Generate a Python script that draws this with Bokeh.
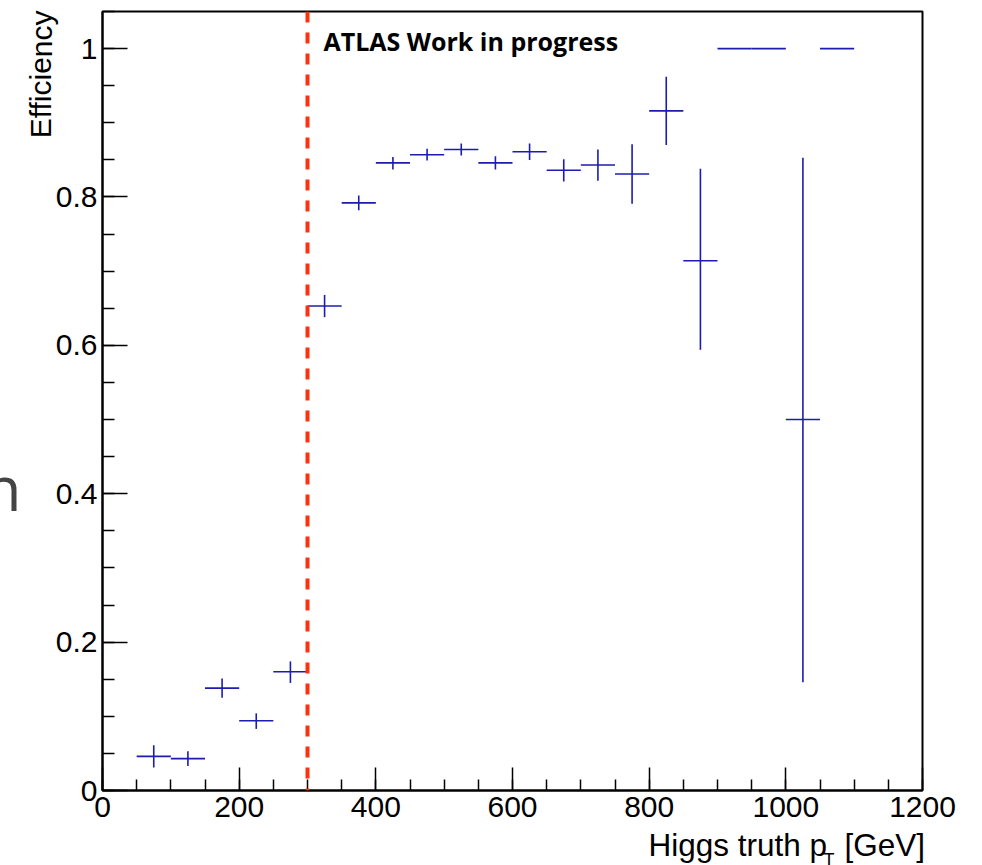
from bokeh.plotting import figure
from bokeh.models import Range1d, FixedTicker, Span, Label, CustomJSTickFormatter, ColumnDataSource
from bokeh.embed import file_html
from bokeh.resources import INLINE

# ---- data ----
bin_lo = [50, 100, 150, 200, 250, 300, 350, 400, 450, 500, 550, 600, 650, 700, 750, 800, 850, 900, 950, 1000, 1050]
bin_hi = [100, 150, 200, 250, 300, 350, 400, 450, 500, 550, 600, 650, 700, 750, 800, 850, 900, 950, 1000, 1050, 1100]
eff = [0.046, 0.043, 0.138, 0.094, 0.160, 0.653, 0.792, 0.846, 0.857, 0.864, 0.846, 0.861, 0.836, 0.843, 0.831, 0.916, 0.714, 1.0, 1.0, 0.500, 1.0]
err_lo = [0.015, 0.010, 0.013, 0.011, 0.015, 0.015, 0.010, 0.009, 0.008, 0.008, 0.009, 0.011, 0.015, 0.021, 0.040, 0.046, 0.120, 0.0, 0.0, 0.354, 0.0]
err_hi = [0.015, 0.010, 0.013, 0.010, 0.014, 0.015, 0.010, 0.008, 0.008, 0.008, 0.009, 0.011, 0.015, 0.021, 0.040, 0.046, 0.124, 0.0, 0.0, 0.353, 0.0]
cut_pt = 300
x_ticks = [0, 200, 400, 600, 800, 1000, 1200]
x_minor = list(range(0, 1201, 50))
y_ticks = [0, 0.2, 0.4, 0.6, 0.8, 1.0]
y_minor = [i * 0.05 for i in range(0, 22)]

# ---- layout constants ----
W, H = 982, 865
L, R, T, B = 102, 60, 11, 75
XMIN, XMAX, YMIN, YMAX = 0, 1200, 0, 1.05
fw, fh = W - L - R, H - T - B


def dx(px):
    return XMIN + (px - L) * (XMAX - XMIN) / fw


def dy(py):
    return YMIN + (H - B - py) * (YMAX - YMIN) / fh


p = figure(width=W, height=H, output_backend="svg", toolbar_location=None,
           x_range=Range1d(XMIN, XMAX), y_range=Range1d(YMIN, YMAX),
           min_border_left=L, min_border_right=R, min_border_top=T, min_border_bottom=B)
p.grid.visible = False
p.background_fill_color = "white"
p.border_fill_color = "white"
p.outline_line_color = "black"
p.outline_line_width = 2

FONT = "Liberation Sans"
for ax in (p.xaxis[0], p.yaxis[0]):
    ax.axis_line_color = "black"
    ax.axis_line_width = 2
    ax.major_tick_out = 0
    ax.minor_tick_out = 0
    ax.major_tick_line_color = "black"
    ax.minor_tick_line_color = "black"
    ax.major_tick_line_width = 1.5
    ax.minor_tick_line_width = 1.5
    ax.major_label_text_font = FONT
    ax.major_label_text_font_size = "30px"
    ax.major_label_text_color = "black"

p.xaxis[0].ticker = FixedTicker(ticks=x_ticks, minor_ticks=x_minor)
p.xaxis[0].major_tick_in = 23
p.xaxis[0].minor_tick_in = 11
p.xaxis[0].major_label_standoff = 6

p.yaxis[0].ticker = FixedTicker(ticks=y_ticks, minor_ticks=y_minor)
p.yaxis[0].major_tick_in = 25
p.yaxis[0].minor_tick_in = 12
p.yaxis[0].major_label_standoff = 5
p.yaxis[0].formatter = CustomJSTickFormatter(code="return (Math.round(tick*10)/10).toString();")

# ---- error bars ----
xc = [(a + b) / 2 for a, b in zip(bin_lo, bin_hi)]
src = ColumnDataSource(dict(
    lo=bin_lo, hi=bin_hi, xc=xc, y=eff,
    ylo=[v - e for v, e in zip(eff, err_lo)],
    yhi=[v + e for v, e in zip(eff, err_hi)],
))
BLUE = "#1c1cb0"
p.segment(x0="lo", x1="hi", y0="y", y1="y", source=src, line_color=BLUE, line_width=1.6)
p.segment(x0="xc", x1="xc", y0="ylo", y1="yhi", source=src, line_color=BLUE, line_width=1.6)

# ---- cut line ----
p.add_layout(Span(location=cut_pt, dimension="height", line_color="#ff3010",
                  line_width=4, line_dash="11 10"))

# ---- texts ----
p.add_layout(Label(x=dx(323), y=dy(40), text="ATLAS Work in progress",
                   text_font="Open Sans", text_font_style="bold", text_font_size="25px",
                   text_color="black", text_align="left", text_baseline="alphabetic"))

# texts outside the frame live in side panels (so they are not clipped);
# each side is chosen so that the panel does not grow past its border
p.add_layout(Label(x=dx(40.5), y=dy(10), text="Efficiency", angle=1.5707963,
                   text_font=FONT, text_font_size="30px", text_color="black",
                   text_align="right", text_baseline="alphabetic"), "right")
p.add_layout(Label(x=dx(823), y=dy(859), text="T",
                   text_font=FONT, text_font_size="18px", text_color="black",
                   text_align="left", text_baseline="alphabetic"), "right")
p.add_layout(Label(x=dx(648), y=dy(844), text="Higgs truth p\u00a0\u00a0[GeV]",
                   text_font=FONT, text_font_size="31.5px", text_color="black",
                   text_align="left", text_baseline="alphabetic"), "below")
# stray glyph from the surrounding slide
p.add_layout(Label(x=dx(-17), y=dy(486), text="n",
                   text_font="Open Sans", text_font_size="62px", text_color="#444444",
                   text_align="left", text_baseline="alphabetic"), "left")

open("out.html", "w").write(file_html(p, INLINE))
